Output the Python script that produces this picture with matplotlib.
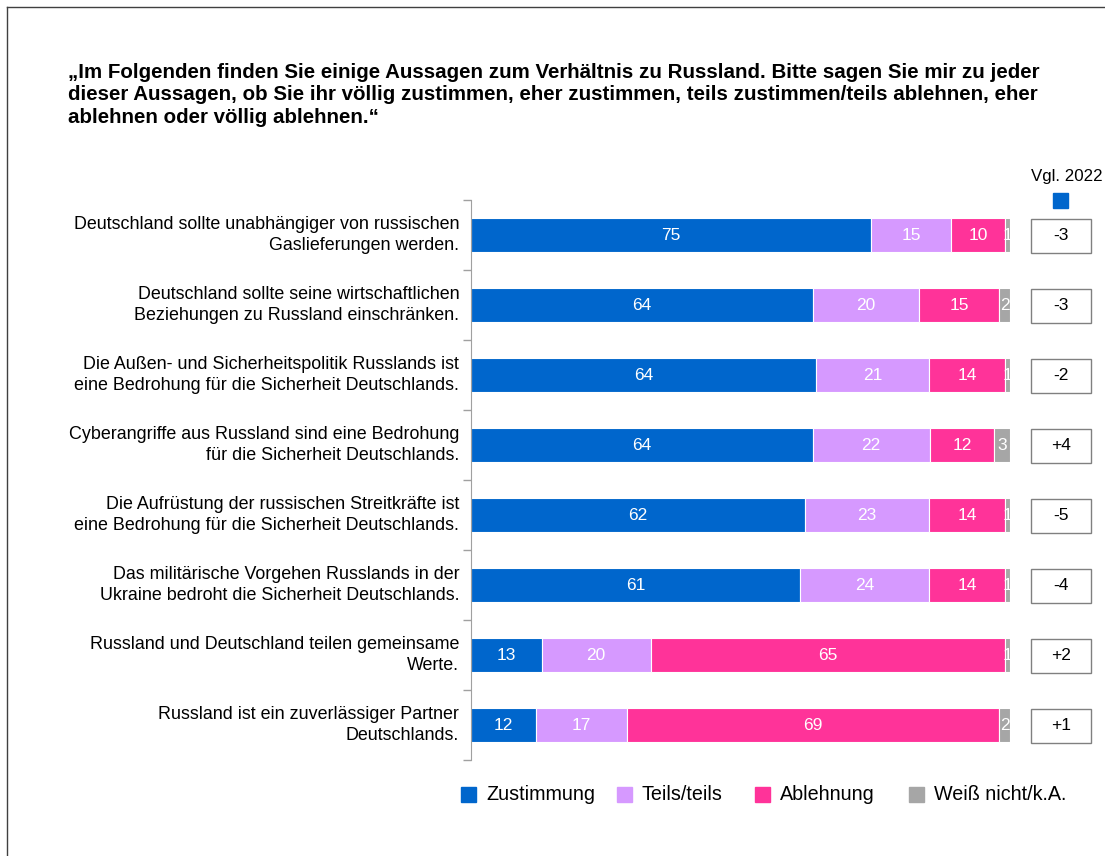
import numpy as np
import matplotlib.pyplot as plt
from matplotlib.patches import Rectangle

plt.rcParams['font.family'] = ['Liberation Sans', 'DejaVu Sans']

statements = [
    "Deutschland sollte unabhängiger von russischen\nGaslieferungen werden.",
    "Deutschland sollte seine wirtschaftlichen\nBeziehungen zu Russland einschränken.",
    "Die Außen- und Sicherheitspolitik Russlands ist\neine Bedrohung für die Sicherheit Deutschlands.",
    "Cyberangriffe aus Russland sind eine Bedrohung\nfür die Sicherheit Deutschlands.",
    "Die Aufrüstung der russischen Streitkräfte ist\neine Bedrohung für die Sicherheit Deutschlands.",
    "Das militärische Vorgehen Russlands in der\nUkraine bedroht die Sicherheit Deutschlands.",
    "Russland und Deutschland teilen gemeinsame\nWerte.",
    "Russland ist ein zuverlässiger Partner\nDeutschlands.",
]
zustimmung = [75, 64, 64, 64, 62, 61, 13, 12]
teils = [15, 20, 21, 22, 23, 24, 20, 17]
ablehnung = [10, 15, 14, 12, 14, 14, 65, 69]
weiss_nicht = [1, 2, 1, 3, 1, 1, 1, 2]
vgl_2022 = ["-3", "-3", "-2", "+4", "-5", "-4", "+2", "+1"]

series_names = ["Zustimmung", "Teils/teils", "Ablehnung", "Weiß nicht/k.A."]
colors = ["#0066CC", "#D699FF", "#FF3399", "#A6A6A6"]

title = ("„Im Folgenden finden Sie einige Aussagen zum Verhältnis zu Russland. Bitte sagen Sie mir zu jeder\n"
         "dieser Aussagen, ob Sie ihr völlig zustimmen, eher zustimmen, teils zustimmen/teils ablehnen, eher\n"
         "ablehnen oder völlig ablehnen.“")


def main():
    W, H = 1105, 856
    fig = plt.figure(figsize=(W / 100, H / 100), dpi=100)

    # frame lines (left and top)
    fig.add_artist(plt.Line2D([7 / W, 7 / W], [0, 1 - 7 / H], color="#404040", lw=1))
    fig.add_artist(plt.Line2D([7 / W, 1], [1 - 7 / H, 1 - 7 / H], color="#404040", lw=1))

    fig.text(68 / W, 1 - 63 / H, title, fontsize=14.8, fontweight="bold",
             va="top", ha="left", linespacing=1.22)

    ax = fig.add_axes([471 / W, 1 - 760 / H, 539 / W, 560 / H])
    n = len(statements)
    y = np.arange(n)
    data = np.array([zustimmung, teils, ablehnung, weiss_nicht], dtype=float)
    totals = data.sum(axis=0)
    left = np.zeros(n)
    for vals, name, col in zip(data, series_names, colors):
        widths = vals / totals * 100
        bars = ax.barh(y, widths, left=left, height=0.49, color=col,
                       edgecolor="white", linewidth=0.8, label=name)
        for b, v, w, l in zip(bars, vals, widths, left):
            t = ax.text(l + w / 2, b.get_y() + b.get_height() / 2, f"{int(v)}",
                        ha="center", va="center", color="white", fontsize=12.5)
            t.set_clip_path(b)
        left += widths

    ax.set_xlim(0, 100)
    ax.set_ylim(n - 0.5, -0.5)
    ax.set_xticks([])
    ax.set_yticks(np.arange(n + 1) - 0.5)
    ax.set_yticklabels([])
    ax.tick_params(axis="y", length=6, color="#A0A0A0", width=1)
    for s in ["top", "right", "bottom"]:
        ax.spines[s].set_visible(False)
    ax.spines["left"].set_color("#A0A0A0")

    for i, lab in enumerate(statements):
        ax.annotate(lab, xy=(0, i), xycoords="data", xytext=(-8.5, 0),
                    textcoords="offset points", ha="right", va="center",
                    fontsize=12.9, linespacing=1.32, annotation_clip=False)

    # comparison boxes
    fig.text(1067 / W, 1 - 177 / H, "Vgl. 2022", ha="center", va="center", fontsize=12.2)
    fig.add_artist(Rectangle((1053 / W, 1 - 208 / H), 15 / W, 15 / H,
                             transform=fig.transFigure, color=colors[0]))
    for i, v in enumerate(vgl_2022):
        cy = 236 + i * 70
        fig.add_artist(Rectangle((1031 / W, 1 - (cy + 17) / H), 60 / W, 34 / H,
                                 transform=fig.transFigure, facecolor="white",
                                 edgecolor="#808080", lw=1))
        fig.text(1061 / W, 1 - cy / H, v, ha="center", va="center", fontsize=12.5)

    # legend
    leg_x = [461, 617, 755, 909]
    for x0, name, col in zip(leg_x, series_names, colors):
        fig.add_artist(Rectangle((x0 / W, 1 - 802 / H), 15 / W, 15 / H,
                                 transform=fig.transFigure, color=col))
        fig.text((x0 + 25) / W, 1 - 795 / H, name, ha="left", va="center",
                 fontsize=14.2)

    fig.savefig("out.png", dpi=100)
    plt.close(fig)


if __name__ == "__main__":
    main()
